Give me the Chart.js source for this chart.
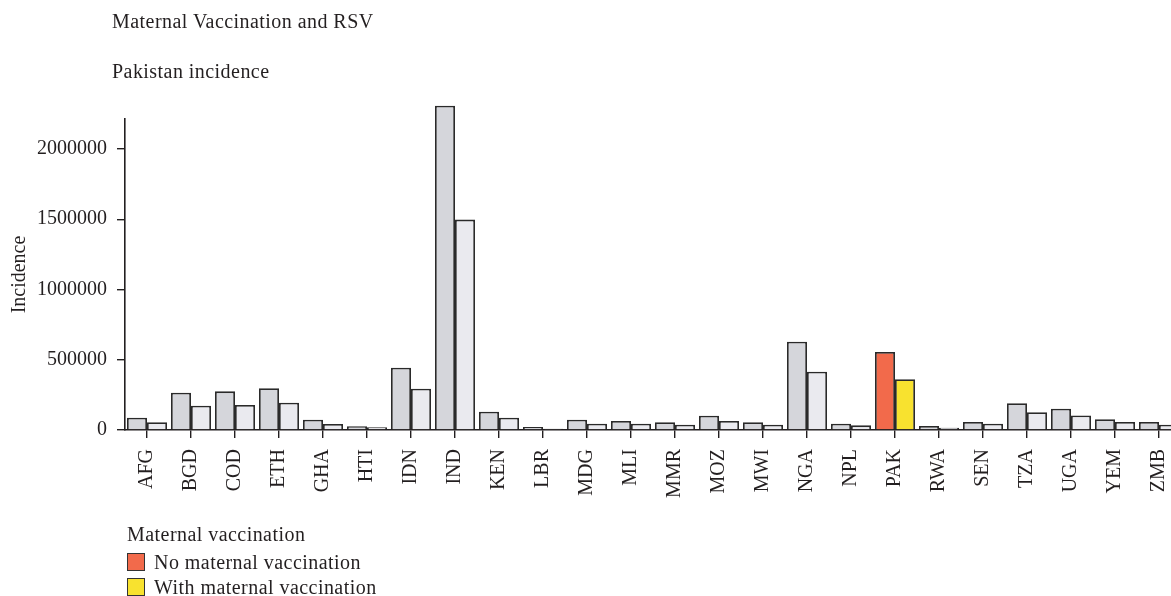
<!DOCTYPE html>
<html>
<head>
<meta charset="utf-8">
<script src="https://cdn.jsdelivr.net/npm/chart.js@4.4.1/dist/chart.umd.min.js"></script>
<style>
  html, body { margin: 0; padding: 0; background: #fff; overflow: hidden; }
  #wrap { position: relative; width: 1171px; height: 596px; overflow: hidden; font-family: "Liberation Serif", serif; color: #231f20; }
  #chart { position: absolute; left: 0; top: 0; }
  .txt { position: absolute; font-size: 20px; line-height: 1; white-space: nowrap; letter-spacing: 0.45px; }
  .swatch { position: absolute; left: 127px; width: 16px; height: 16px; border: 1px solid #333; }
</style>
</head>
<body>
<div id="wrap">
  <canvas id="chart" width="1185" height="596"></canvas>
  <div class="txt" style="left:112px; top:11px;">Maternal Vaccination and RSV</div>
  <div class="txt" style="left:112px; top:61px;">Pakistan incidence</div>
  <div class="txt" style="left:127px; top:524px;">Maternal vaccination</div>
  <div class="swatch" id="sw1" style="top:553px;"></div>
  <div class="txt" id="lg1" style="left:154px; top:552px;"></div>
  <div class="swatch" id="sw2" style="top:578px;"></div>
  <div class="txt" id="lg2" style="left:154px; top:577px;"></div>
</div>
<script>
const countries = ['AFG', 'BGD', 'COD', 'ETH', 'GHA', 'HTI', 'IDN', 'IND', 'KEN', 'LBR', 'MDG', 'MLI',
  'MMR', 'MOZ', 'MWI', 'NGA', 'NPL', 'PAK', 'RWA', 'SEN', 'TZA', 'UGA', 'YEM', 'ZMB'];
const noVaccination = [87500, 265000, 275000, 297000, 73000, 26000, 443000, 2308000, 130000, 21000, 73000, 64000,
  55000, 102000, 55000, 628000, 45000, 555000, 28000, 57000, 190000, 152000, 76000, 57000];
const withVaccination = [55000, 173000, 178000, 194000, 43000, 19000, 294000, 1497000, 87500, 9000, 45000, 45000,
  38000, 64000, 38000, 415000, 33000, 361000, 16000, 45000, 126000, 104000, 57000, 38000];
const yTicks = [0, 500000, 1000000, 1500000, 2000000];
const seriesNames = ['No maternal vaccination', 'With maternal vaccination'];
const highlight = 'PAK';

const GRAY_DARK = '#d5d6db';
const GRAY_LIGHT = '#eaeaef';
const RED = '#f26a4b';
const YELLOW = '#f8e22f';
const INK = '#231f20';
const FONT = { family: '"Liberation Serif", serif', size: 20 };

document.getElementById('sw1').style.background = RED;
document.getElementById('sw2').style.background = YELLOW;
document.getElementById('lg1').textContent = seriesNames[0];
document.getElementById('lg2').textContent = seriesNames[1];

const colorsFor = (hi, base) => countries.map(c => c === highlight ? hi : base);

new Chart(document.getElementById('chart'), {
  type: 'bar',
  data: {
    labels: countries,
    datasets: [
      {
        label: seriesNames[0],
        data: noVaccination,
        backgroundColor: colorsFor(RED, GRAY_DARK),
        borderColor: '#2a2a2a',
        borderWidth: 1.8,
        clip: false
      },
      {
        label: seriesNames[1],
        data: withVaccination,
        backgroundColor: colorsFor(YELLOW, GRAY_LIGHT),
        borderColor: '#2a2a2a',
        borderWidth: 1.8,
        clip: false
      }
    ]
  },
  options: {
    responsive: false,
    animation: false,
    devicePixelRatio: 1,
    layout: { padding: { top: 119, bottom: 76, left: 0, right: 4 } },
    datasets: { bar: { barPercentage: 1.0, categoryPercentage: 0.91 } },
    plugins: {
      legend: { display: false },
      tooltip: { enabled: false }
    },
    scales: {
      x: {
        offset: true,
        grid: { display: true, drawOnChartArea: false, offset: false, tickLength: 8, color: INK, lineWidth: 1.4 },
        border: { display: true, color: INK, width: 1.6 },
        ticks: { color: INK, font: FONT, maxRotation: 90, minRotation: 90, autoSkip: false, padding: 11 },
        afterFit: s => { s.height = 90; s.paddingLeft = 0; s.paddingRight = 0; }
      },
      y: {
        min: 0,
        max: 2213000,
        afterBuildTicks: s => { s.ticks = yTicks.map(v => ({ value: v })); },
        grid: { display: true, drawOnChartArea: false, tickLength: 8, color: INK, lineWidth: 1.4 },
        border: { display: true, color: INK, width: 1.6 },
        ticks: { color: INK, font: FONT, padding: 10, callback: v => String(v) },
        title: { display: true, text: 'Incidence', color: INK, font: FONT, padding: { top: 8, bottom: 0 } },
        afterFit: s => { s.width = 125; }
      }
    }
  }
});
</script>
</body>
</html>
